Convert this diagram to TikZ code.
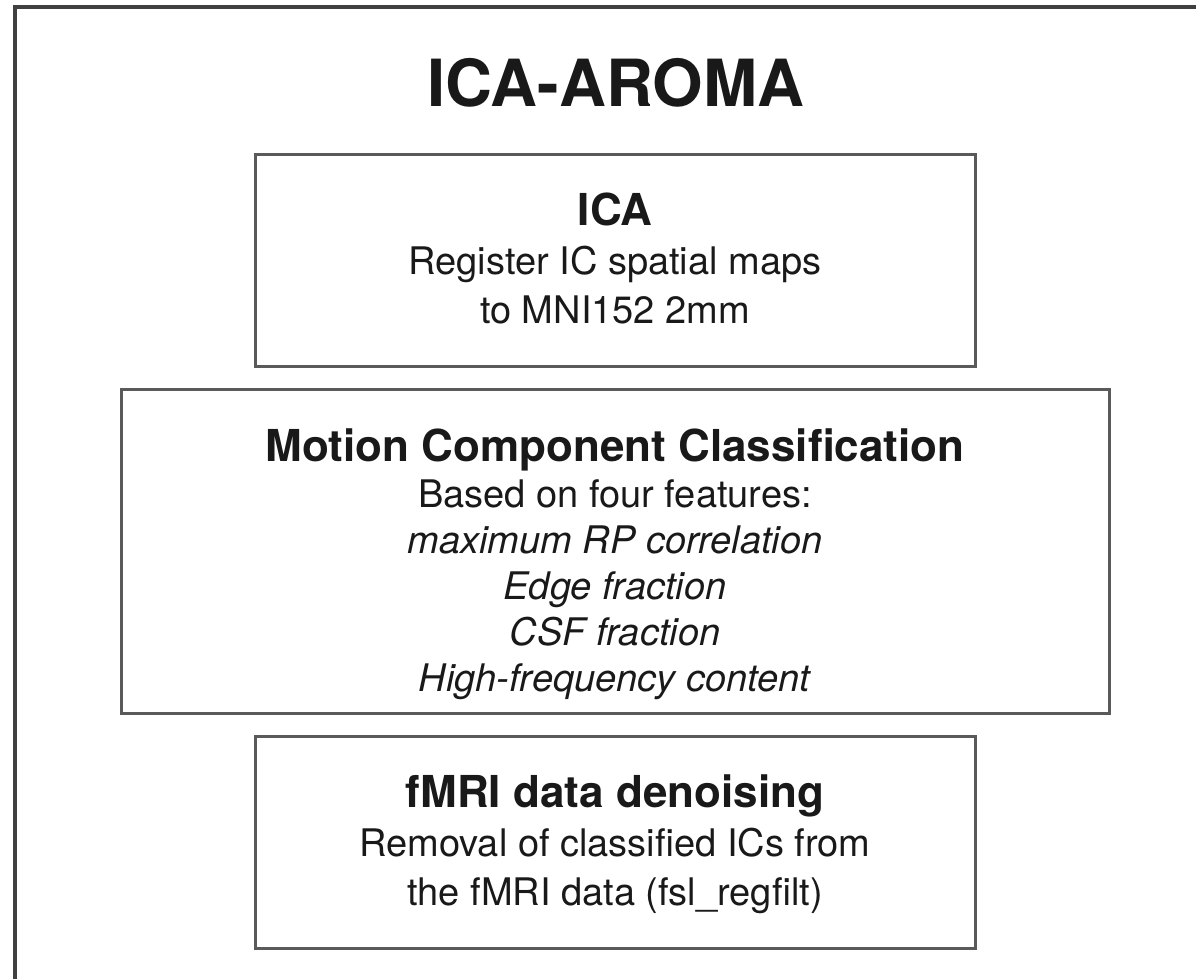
\documentclass[tikz,border=0pt]{standalone}
\usepackage{fontspec}
\setmainfont{TeX Gyre Heros}
\usepackage{tikz}
\definecolor{fr}{RGB}{64, 64, 64}
\definecolor{bx}{RGB}{90, 90, 90}
\definecolor{tx}{RGB}{25, 25, 25}
\usetikzlibrary{positioning}

\tikzset{
  stagebox/.style={rectangle, line width=3pt, draw=bx},
  stagetext/.style={align=center, text=tx, inner sep=0pt},
}

\begin{document}
\begin{tikzpicture}[every node/.style={inner sep=0pt}]
\useasboundingbox (0pt, 0pt) rectangle (1196pt, -979pt);
\clip (0pt, 0pt) rectangle (1196pt, -979pt);
% outer frame, cut at the right and bottom
\draw [line width=3.5pt, color=fr] (15pt, -7pt) rectangle (1230pt, -1010pt);
\node (title) [font=\bfseries\fontsize{65}{65}\selectfont, text=tx] at (616pt, -82.5pt) {ICA-AROMA};
% stages
\node (ica) [stagebox, minimum width=720pt, minimum height=212pt] at (615.0pt, -260.0pt) {};
\node (mcc) [stagebox, minimum width=988pt, minimum height=324pt] at (615.0pt, -551.0pt) {};
\node (denoise) [stagebox, minimum width=720pt, minimum height=212pt] at (615.0pt, -842.0pt) {};
\node (icatext) [stagetext, font=\fontsize{38}{49}\selectfont, below=40pt of ica.north]
  {{\bfseries\fontsize{44}{49}\selectfont ICA}\\Register IC spatial maps\\to MNI152 2mm};
\node (mcctext) [stagetext, font=\fontsize{38}{46}\selectfont, below=41pt of mcc.north]
  {{\bfseries\fontsize{44}{46}\selectfont Motion Component Classification}\\Based on four features:\\
   \textit{maximum RP correlation}\\\textit{Edge fraction}\\\textit{CSF fraction}\\\textit{High-frequency content}};
\node (denoisetext) [stagetext, font=\fontsize{38}{49}\selectfont, below=40pt of denoise.north]
  {{\bfseries\fontsize{44}{49}\selectfont fMRI data denoising}\\Removal of classified ICs from\\the fMRI data (fsl\_regfilt)};
\end{tikzpicture}
\end{document}
